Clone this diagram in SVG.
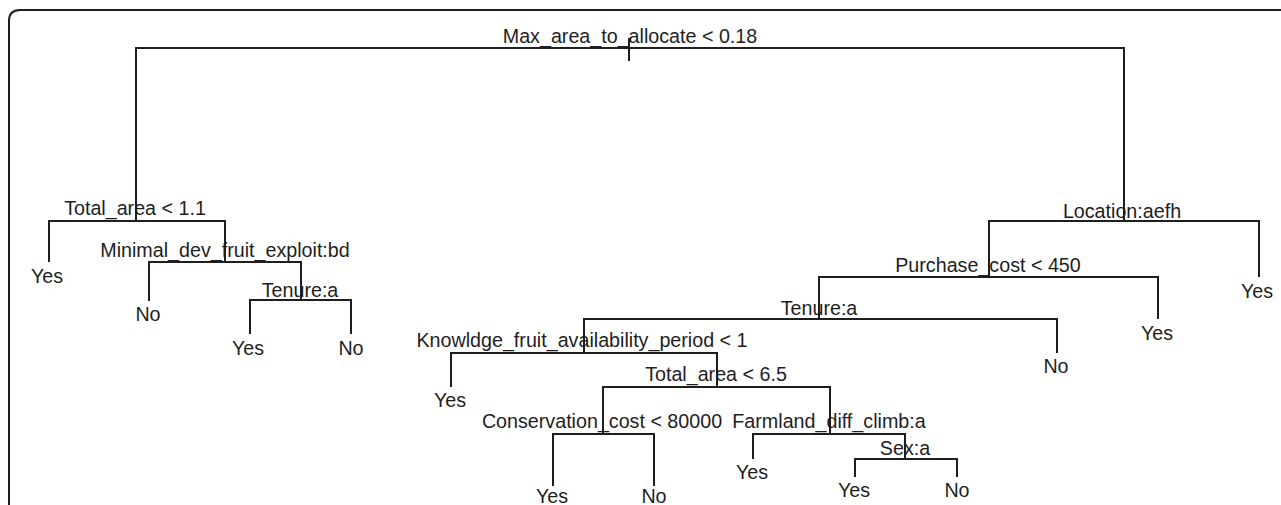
<svg xmlns="http://www.w3.org/2000/svg" width="1281" height="505" viewBox="0 0 1281 505">
<style>
.e{fill:none;stroke:#1e1e1e;stroke-width:2}
text{font-family:"Liberation Sans",Arial,sans-serif;font-size:19.7px;fill:#1e1e1e;text-anchor:middle}
</style>
<rect width="1281" height="505" fill="#fff"/>
<path class="e" d="M9 505V21Q9 10 20 10H1281"/>
<g id="connectors">
<path class="e" d="M629 38V61"/>
<path class="e" d="M629 48H136V221"/>
<path class="e" d="M629 48H1124V221"/>
<path class="e" d="M136 221H49V262"/>
<path class="e" d="M136 221H225V262"/>
<path class="e" d="M225 262H149V301"/>
<path class="e" d="M225 262H301V300"/>
<path class="e" d="M301 300H250V334"/>
<path class="e" d="M301 300H351V334"/>
<path class="e" d="M1124 221H989V277"/>
<path class="e" d="M1124 221H1259V277"/>
<path class="e" d="M989 277H819V319"/>
<path class="e" d="M989 277H1158V319"/>
<path class="e" d="M819 319H584V353"/>
<path class="e" d="M819 319H1057V353"/>
<path class="e" d="M584 353H451V387"/>
<path class="e" d="M584 353H717V387"/>
<path class="e" d="M717 387H603V434"/>
<path class="e" d="M717 387H830V434"/>
<path class="e" d="M603 434H553V486"/>
<path class="e" d="M603 434H654V486"/>
<path class="e" d="M830 434H753V459"/>
<path class="e" d="M830 434H905V459"/>
<path class="e" d="M905 459H855V477"/>
<path class="e" d="M905 459H957V477"/>
</g>
<g id="n1"><text x="630" y="43">Max_area_to_allocate &lt; 0.18</text></g>
<g id="n2"><text x="135" y="215">Total_area &lt; 1.1</text></g>
<g id="n4"><text x="47" y="283">Yes</text></g>
<g id="n5"><text x="225" y="257">Minimal_dev_fruit_exploit:bd</text></g>
<g id="n10"><text x="148" y="321">No</text></g>
<g id="n11"><text x="300" y="297">Tenure:a</text></g>
<g id="n22"><text x="248" y="355">Yes</text></g>
<g id="n23"><text x="351" y="355">No</text></g>
<g id="n3"><text x="1122" y="218">Location:aefh</text></g>
<g id="n7"><text x="1257" y="298">Yes</text></g>
<g id="n6"><text x="988" y="272">Purchase_cost &lt; 450</text></g>
<g id="n13"><text x="1157" y="340">Yes</text></g>
<g id="n12"><text x="819" y="315">Tenure:a</text></g>
<g id="n25"><text x="1056" y="373">No</text></g>
<g id="n24"><text x="582" y="347">Knowldge_fruit_availability_period &lt; 1</text></g>
<g id="n48"><text x="450" y="407">Yes</text></g>
<g id="n49"><text x="716" y="381">Total_area &lt; 6.5</text></g>
<g id="n98"><text x="602" y="428">Conservation_cost &lt; 80000</text></g>
<g id="n196"><text x="552" y="503">Yes</text></g>
<g id="n197"><text x="654" y="503">No</text></g>
<g id="n99"><text x="829" y="428">Farmland_diff_climb:a</text></g>
<g id="n198"><text x="752" y="479">Yes</text></g>
<g id="n199"><text x="905" y="455">Sex:a</text></g>
<g id="n398"><text x="854" y="497">Yes</text></g>
<g id="n399"><text x="957" y="497">No</text></g>
</svg>
